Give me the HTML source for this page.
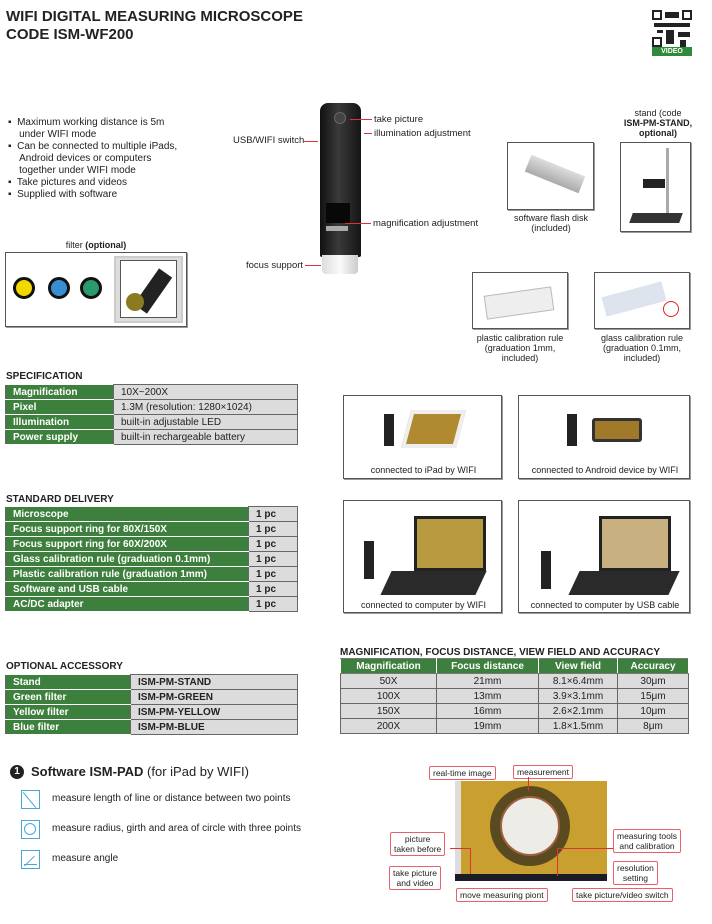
<!DOCTYPE html>
<html><head><meta charset="utf-8"><style>
*{margin:0;padding:0;box-sizing:border-box}
body{width:712px;height:924px;background:#fff;position:relative;overflow:hidden;font-family:"Liberation Sans",Arial,sans-serif;color:#222}
.a{position:absolute}
.t{font-size:9.5px;line-height:11px}
.b{font-weight:bold}
.box{position:absolute;border:1px solid #555;box-shadow:1px 1px 0 #999;background:#fff}
.lbl{position:absolute;font-size:9px;line-height:10px;text-align:center}
table{border-collapse:collapse;position:absolute;font-size:10px}
td{border:1px solid #666;padding:0 0 0 7px;height:15px;line-height:13px}
td.g{background:#3d7f3c;color:#fff;font-weight:bold;border-color:#fff #666 #fff #666}
td.w{background:#dcdcdc}
.mt td{text-align:center;padding:0}
.mt tr.h td{background:#3d7f3c;color:#fff;font-weight:bold;border-color:#777 #fff}
.sec{position:absolute;font-weight:bold;font-size:10px}
.rl{position:absolute;border:1.5px solid #e8606a;background:#fff;font-size:8.5px;line-height:10px;text-align:center;padding:1px 3px;border-radius:2px}
.ln{position:absolute;background:#d33}
.ic{position:absolute;width:19px;height:19px;border:1.5px solid #49a6d8}
.qb{position:absolute;background:#222}
</style></head><body>
<div class="a b" style="left:6px;top:8px;font-size:15px;line-height:18px;color:#222">WIFI DIGITAL MEASURING MICROSCOPE<br>CODE ISM-WF200</div>
<!-- QR -->
<div class="a" style="left:652px;top:10px;width:40px;height:37px;background:#fff">
<div class="qb" style="left:0;top:0;width:10px;height:10px;border:2px solid #222;background:#fff"></div>
<div class="qb" style="left:30px;top:0;width:10px;height:10px;border:2px solid #222;background:#fff"></div>
<div class="qb" style="left:0;top:27px;width:10px;height:10px;border:2px solid #222;background:#fff"></div>
<div class="qb" style="left:13px;top:2px;width:14px;height:6px"></div>
<div class="qb" style="left:2px;top:13px;width:36px;height:4px"></div>
<div class="qb" style="left:14px;top:20px;width:8px;height:14px"></div>
<div class="qb" style="left:26px;top:22px;width:12px;height:5px"></div>
<div class="qb" style="left:28px;top:30px;width:6px;height:7px"></div>
<div class="qb" style="left:5px;top:20px;width:6px;height:3px"></div>
</div>
<div class="a b" style="left:652px;top:47px;width:40px;height:9px;background:#2f8a3a;color:#fff;font-size:7px;line-height:9px;text-align:center">VIDEO</div>

<div class="a" style="left:8px;top:117px;font-size:10px;line-height:12px;width:200px">
<div>▪&nbsp; Maximum working distance is 5m<br>&nbsp;&nbsp;&nbsp;&nbsp;under WIFI mode</div>
<div>▪&nbsp; Can be connected to multiple iPads,<br>&nbsp;&nbsp;&nbsp;&nbsp;Android devices or computers<br>&nbsp;&nbsp;&nbsp;&nbsp;together under WIFI mode</div>
<div>▪&nbsp; Take pictures and videos</div>
<div>▪&nbsp; Supplied with software</div></div>

<!-- microscope -->
<div class="a" style="left:320px;top:103px;width:41px;height:154px;background:linear-gradient(90deg,#111,#3a3a3a 45%,#151515);border-radius:8px 8px 2px 2px"></div>
<div class="a" style="left:334px;top:112px;width:12px;height:12px;border-radius:50%;background:#444;border:1px solid #666"></div>
<div class="a" style="left:326px;top:203px;width:24px;height:20px;background:#080808"></div>
<div class="a" style="left:326px;top:226px;width:22px;height:5px;background:#aaa"></div>
<div class="a" style="left:322px;top:255px;width:36px;height:19px;background:linear-gradient(90deg,#ddd,#fafafa,#ccc);border-radius:0 0 4px 4px"></div>
<div class="a t" style="left:374px;top:114px">take picture</div><div class="ln" style="left:350px;top:119px;width:22px;height:1px"></div>
<div class="a t" style="left:374px;top:128px">illumination adjustment</div><div class="ln" style="left:364px;top:133px;width:8px;height:1px"></div>
<div class="a t" style="left:233px;top:135px">USB/WIFI switch</div><div class="ln" style="left:304px;top:141px;width:14px;height:1px"></div>
<div class="a t" style="left:373px;top:218px">magnification adjustment</div><div class="ln" style="left:345px;top:223px;width:26px;height:1px"></div>
<div class="a t" style="left:246px;top:260px">focus support</div><div class="ln" style="left:305px;top:265px;width:16px;height:1px"></div>

<!-- accessories -->
<div class="box" style="left:507px;top:142px;width:87px;height:68px"><div class="a" style="left:18px;top:22px;width:58px;height:18px;background:linear-gradient(#ddd,#aaa);transform:rotate(22deg)"></div></div>
<div class="lbl" style="left:500px;top:213px;width:102px">software flash disk<br>(included)</div>
<div class="lbl" style="left:600px;top:108px;width:116px">stand (code<br><b>ISM-PM-STAND,<br>optional)</b></div>
<div class="box" style="left:620px;top:142px;width:71px;height:90px"><div class="a" style="left:45px;top:5px;width:3px;height:72px;background:#aaa"></div><div class="a" style="left:22px;top:36px;width:22px;height:9px;background:#222"></div><div class="a" style="left:10px;top:70px;width:50px;height:10px;background:#333;transform:skewX(-20deg)"></div></div>
<div class="box" style="left:472px;top:272px;width:96px;height:57px"><div class="a" style="left:12px;top:18px;width:68px;height:24px;background:#eee;border:1px solid #bbb;transform:rotate(-8deg)"></div></div>
<div class="box" style="left:594px;top:272px;width:96px;height:57px"><div class="a" style="left:8px;top:16px;width:62px;height:20px;background:#dde4ee;transform:rotate(-15deg)"></div><div class="a" style="left:68px;top:28px;width:16px;height:16px;border:1.5px solid #d22;border-radius:50%"></div></div>
<div class="lbl" style="left:466px;top:333px;width:108px">plastic calibration rule<br>(graduation 1mm,<br>included)</div>
<div class="lbl" style="left:588px;top:333px;width:108px">glass calibration rule<br>(graduation 0.1mm,<br>included)</div>

<!-- filter -->
<div class="lbl" style="left:40px;top:240px;width:112px">filter <b>(optional)</b></div>
<div class="box" style="left:5px;top:252px;width:182px;height:75px">
<div class="a" style="left:7px;top:24px;width:22px;height:22px;border-radius:50%;background:#f0d800;border:3px solid #111"></div>
<div class="a" style="left:42px;top:24px;width:22px;height:22px;border-radius:50%;background:#3a8ed0;border:3px solid #111"></div>
<div class="a" style="left:74px;top:24px;width:22px;height:22px;border-radius:50%;background:#2a9a6a;border:3px solid #111"></div>
<div class="a" style="left:108px;top:3px;width:69px;height:67px;background:#ddd;border:2px solid #ccc"><div class="a" style="left:4px;top:2px;width:57px;height:58px;border:1px solid #555;background:#fff"><div class="a" style="left:10px;top:22px;width:44px;height:16px;background:#222;transform:rotate(-55deg)"></div><div class="a" style="left:5px;top:32px;width:18px;height:18px;border-radius:50%;background:#8a7a20"></div></div></div>
</div>

<!-- spec -->
<div class="sec" style="left:6px;top:371px">SPECIFICATION</div>
<table style="left:5px;top:384px;width:293px">
<tr><td class="g" style="width:108px">Magnification</td><td class="w">10X~200X</td></tr>
<tr><td class="g">Pixel</td><td class="w">1.3M (resolution: 1280×1024)</td></tr>
<tr><td class="g">Illumination</td><td class="w">built-in adjustable LED</td></tr>
<tr><td class="g">Power supply</td><td class="w">built-in rechargeable battery</td></tr>
</table>

<!-- connection boxes -->
<div class="box" style="left:343px;top:395px;width:159px;height:84px"><div class="a" style="left:40px;top:18px;width:10px;height:32px;background:#222"></div><div class="a" style="left:62px;top:14px;width:55px;height:38px;background:#b08a30;border:4px solid #eee;transform:skewX(-15deg)"></div><div class="lbl" style="left:0;top:69px;width:159px">connected to iPad by WIFI</div></div>
<div class="box" style="left:518px;top:395px;width:172px;height:84px"><div class="a" style="left:48px;top:18px;width:10px;height:32px;background:#222"></div><div class="a" style="left:73px;top:22px;width:50px;height:24px;background:#a07a28;border:3px solid #333;border-radius:3px"></div><div class="lbl" style="left:0;top:69px;width:172px">connected to Android device by WIFI</div></div>
<div class="box" style="left:343px;top:500px;width:159px;height:113px"><div class="a" style="left:20px;top:40px;width:10px;height:38px;background:#222"></div><div class="a" style="left:70px;top:15px;width:72px;height:55px;background:#b89a40;border:3px solid #222"></div><div class="a" style="left:42px;top:70px;width:95px;height:24px;background:#2a2a2a;transform:skewX(-25deg)"></div><div class="lbl" style="left:0;top:99px;width:159px">connected to computer by WIFI</div></div>
<div class="box" style="left:518px;top:500px;width:172px;height:113px"><div class="a" style="left:22px;top:50px;width:10px;height:38px;background:#222"></div><div class="a" style="left:80px;top:15px;width:72px;height:55px;background:#c8b080;border:3px solid #222"></div><div class="a" style="left:55px;top:70px;width:100px;height:24px;background:#2a2a2a;transform:skewX(-25deg)"></div><div class="lbl" style="left:0;top:99px;width:172px">connected to computer by USB cable</div></div>

<!-- standard delivery -->
<div class="sec" style="left:6px;top:494px">STANDARD DELIVERY</div>
<table style="left:5px;top:506px;width:293px">
<tr><td class="g" style="width:243px">Microscope</td><td class="w b">1 pc</td></tr>
<tr><td class="g">Focus support ring for 80X/150X</td><td class="w b">1 pc</td></tr>
<tr><td class="g">Focus support ring for 60X/200X</td><td class="w b">1 pc</td></tr>
<tr><td class="g">Glass calibration rule (graduation 0.1mm)</td><td class="w b">1 pc</td></tr>
<tr><td class="g">Plastic calibration rule (graduation 1mm)</td><td class="w b">1 pc</td></tr>
<tr><td class="g">Software and USB cable</td><td class="w b">1 pc</td></tr>
<tr><td class="g">AC/DC adapter</td><td class="w b">1 pc</td></tr>
</table>

<!-- optional -->
<div class="sec" style="left:6px;top:661px">OPTIONAL ACCESSORY</div>
<table style="left:5px;top:674px;width:293px">
<tr><td class="g" style="width:125px">Stand</td><td class="w b">ISM-PM-STAND</td></tr>
<tr><td class="g">Green filter</td><td class="w b">ISM-PM-GREEN</td></tr>
<tr><td class="g">Yellow filter</td><td class="w b">ISM-PM-YELLOW</td></tr>
<tr><td class="g">Blue filter</td><td class="w b">ISM-PM-BLUE</td></tr>
</table>

<div class="sec" style="left:340px;top:647px">MAGNIFICATION, FOCUS DISTANCE, VIEW FIELD AND ACCURACY</div>
<table class="mt" style="left:340px;top:658px;width:349px">
<tr class="h"><td style="width:96px">Magnification</td><td style="width:102px">Focus distance</td><td style="width:79px">View field</td><td>Accuracy</td></tr>
<tr><td class="w">50X</td><td class="w">21mm</td><td class="w">8.1×6.4mm</td><td class="w">30μm</td></tr>
<tr><td class="w">100X</td><td class="w">13mm</td><td class="w">3.9×3.1mm</td><td class="w">15μm</td></tr>
<tr><td class="w">150X</td><td class="w">16mm</td><td class="w">2.6×2.1mm</td><td class="w">10μm</td></tr>
<tr><td class="w">200X</td><td class="w">19mm</td><td class="w">1.8×1.5mm</td><td class="w">8μm</td></tr>
</table>

<!-- software -->
<div class="a" style="left:10px;top:765px;width:14px;height:14px;border-radius:50%;background:#222;color:#fff;font-size:10px;font-weight:bold;text-align:center;line-height:14px">1</div>
<div class="a" style="left:31px;top:764px;font-size:13px"><b>Software ISM-PAD</b> (for iPad by WIFI)</div>
<div class="ic" style="left:21px;top:790px"><div class="a" style="left:7px;top:-1px;width:1px;height:20px;background:#49a6d8;transform:rotate(-40deg)"></div></div>
<div class="ic" style="left:21px;top:820px"><div class="a" style="left:2px;top:2px;width:12px;height:12px;border:1px solid #49a6d8;border-radius:50%"></div></div>
<div class="ic" style="left:21px;top:850px"><div class="a" style="left:2px;top:13px;width:13px;height:1px;background:#49a6d8"></div><div class="a" style="left:7px;top:3px;width:1px;height:14px;background:#49a6d8;transform:rotate(45deg)"></div></div>
<div class="a" style="left:52px;top:793px;font-size:10px">measure length of line or distance between two points</div>
<div class="a" style="left:52px;top:823px;font-size:10px">measure radius, girth and area of circle with three points</div>
<div class="a" style="left:52px;top:853px;font-size:10px">measure angle</div>

<!-- screenshot -->
<div class="a" style="left:455px;top:781px;width:152px;height:100px;background:#c9a030;overflow:hidden">
<div class="a" style="left:35px;top:5px;width:80px;height:80px;border-radius:50%;background:#5a4a20"></div>
<div class="a" style="left:45px;top:15px;width:60px;height:60px;border-radius:50%;background:#eeece6;border:2px solid #a06040"></div>
<div class="a" style="left:0;top:0;width:6px;height:100px;background:#ddd"></div>
<div class="a" style="left:0;top:93px;width:152px;height:7px;background:#1c1c28"></div>
</div>
<div class="rl" style="left:429px;top:766px">real-time image</div>
<div class="rl" style="left:513px;top:765px">measurement</div>
<div class="rl" style="left:390px;top:832px">picture<br>taken before</div>
<div class="rl" style="left:389px;top:866px">take picture<br>and video</div>
<div class="rl" style="left:456px;top:888px">move measuring piont</div>
<div class="rl" style="left:613px;top:829px">measuring tools<br>and calibration</div>
<div class="rl" style="left:613px;top:861px">resolution<br>setting</div>
<div class="rl" style="left:572px;top:888px">take picture/video switch</div>
<div class="ln" style="left:528px;top:777px;width:1px;height:14px"></div>
<div class="ln" style="left:450px;top:848px;width:20px;height:1px"></div>
<div class="ln" style="left:470px;top:848px;width:1px;height:26px"></div>
<div class="ln" style="left:557px;top:848px;width:56px;height:1px"></div>
<div class="ln" style="left:557px;top:848px;width:1px;height:28px"></div>
</body></html>
